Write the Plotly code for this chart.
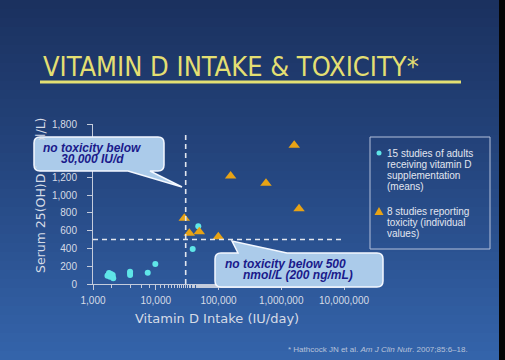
import plotly.graph_objects as go

# ---------------- data ----------------
supp_intake = [1700, 1750, 1800, 1870, 1940, 2030, 2060, 2100, 3900, 3900, 3900, 7450, 9850, 38800, 47600]
supp_serum = [93, 101, 124, 82, 112, 90, 101, 64, 138, 124, 101, 127, 225, 394, 649]
tox_intake = [28500, 34300, 49400, 99300, 156000, 571000, 1610000, 1920000]
tox_serum = [739, 570, 589, 532, 1215, 1133, 1560, 847]

x_tickvals = [1000, 10000, 100000, 1000000, 10000000]
x_ticktext = ["1,000", "10,000", "100,000", "1,000,000", "10,000,000"]
y_tickvals = [0, 200, 400, 600, 800, 1000, 1200, 1400, 1600, 1800]

intake_limit = 30000
serum_limit = 500

title_text = "VITAMIN D INTAKE &amp; TOXICITY*"
x_title = "Vitamin D Intake (IU/day)"
y_title = "Serum 25(OH)D (nmol/L)"
callout1_lines = ["no toxicity below", "30,000 IU/d"]
callout2_lines = ["no toxicity below 500", "nmol/L (200 ng/mL)"]
legend1_lines = ["15 studies of adults", "receiving vitamin D", "supplementation", "(means)"]
legend2_lines = ["8 studies reporting", "toxicity (individual", "values)"]
footnote = "* Hathcock JN et al. <i>Am J Clin Nutr</i>. 2007;85:6\u201318."

# ---------------- layout geometry (pixels) ----------------
W, H = 505, 360
L, R, T, B = 93, 344, 124, 284
PW, PH = R - L, B - T


def PX(px):
    return (px - L) / PW


def PY(py):
    return (B - py) / PH


CYAN = "#5fe6e8"
ORANGE = "#e8a315"
BOX = "#abcbea"
TXT_NAVY = "#1a1a8a"
AXIS = "#c4ccdc"
LABEL = "#d6dbe6"

fig = go.Figure()
fig.add_trace(go.Scatter(x=supp_intake, y=supp_serum, mode="markers",
                         marker=dict(color=CYAN, size=6, line=dict(width=0)),
                         showlegend=False, hoverinfo="skip"))
fig.add_trace(go.Scatter(x=tox_intake, y=tox_serum, mode="markers",
                         marker=dict(color=ORANGE, size=10, symbol="triangle-up", line=dict(width=0)),
                         showlegend=False, hoverinfo="skip"))

shapes = []
# background gradient
n = 40
c0 = (27, 49, 95)
c1 = (38, 72, 130)
c2 = (53, 101, 172)
for i in range(n):
    t = (i + 0.5) / n
    if t < 0.5:
        u = t / 0.5
        c = tuple(int(c0[k] + (c1[k] - c0[k]) * u) for k in range(3))
    else:
        u = (t - 0.5) / 0.5
        c = tuple(int(c1[k] + (c2[k] - c1[k]) * u) for k in range(3))
    y0p = i * H / n
    y1p = (i + 1) * H / n + 0.5
    shapes.append(dict(type="rect", xref="paper", yref="paper", layer="below",
                       x0=PX(0), x1=PX(W), y0=PY(y0p), y1=PY(y1p),
                       fillcolor="rgb(%d,%d,%d)" % c, line=dict(width=0)))
# black stripe at right
shapes.append(dict(type="rect", xref="paper", yref="paper", layer="above",
                   x0=PX(499), x1=PX(W + 1), y0=PY(-1), y1=PY(H + 1),
                   fillcolor="#050505", line=dict(width=0)))
# title underline
shapes.append(dict(type="line", xref="paper", yref="paper", layer="above",
                   x0=PX(40), x1=PX(461), y0=PY(82), y1=PY(82),
                   line=dict(color="#e4df72", width=3)))
# dashed reference lines
shapes.append(dict(type="line", xref="x", yref="y", layer="above",
                   x0=intake_limit, x1=intake_limit, y0=0, y1=1700,
                   line=dict(color="#e2e6ee", width=1.6, dash="5px,4px")))
shapes.append(dict(type="line", xref="x", yref="y", layer="above",
                   x0=1000, x1=9300000, y0=serum_limit, y1=serum_limit,
                   line=dict(color="#e2e6ee", width=1.6, dash="5px,4px")))


def path_from(points):
    s = ""
    for cmd, pts in points:
        s += cmd + " " + " ".join("%.5f,%.5f" % (PX(a), PY(b)) for a, b in pts) + " "
    return s + "Z"


r = 6
# callout 1: box + wedge pointing down-right
bl, br_, bt, bb = 34, 164, 137, 171
p1 = [("M", [(bl + r, bt)]), ("L", [(br_ - r, bt)]), ("Q", [(br_, bt), (br_, bt + r)]),
      ("L", [(br_, bb - r)]), ("Q", [(br_, bb), (br_ - r, bb)]),
      ("L", [(150, bb)]), ("L", [(182, 187)]), ("L", [(128, bb)]),
      ("L", [(bl + r, bb)]), ("Q", [(bl, bb), (bl, bb - r)]),
      ("L", [(bl, bt + r)]), ("Q", [(bl, bt), (bl + r, bt)])]
shapes.append(dict(type="path", xref="paper", yref="paper", layer="above",
                   path=path_from(p1), fillcolor=BOX, line=dict(color="#f4f8ff", width=1.5)))
# callout 2: box + wedge pointing up-left
cl, cr, ct, cb = 215, 383, 253, 287
p2 = [("M", [(cl + r, ct)]), ("L", [(238, ct)]), ("L", [(232, 241)]), ("L", [(287, ct)]),
      ("L", [(cr - r, ct)]), ("Q", [(cr, ct), (cr, ct + r)]),
      ("L", [(cr, cb - r)]), ("Q", [(cr, cb), (cr - r, cb)]),
      ("L", [(cl + r, cb)]), ("Q", [(cl, cb), (cl, cb - r)]),
      ("L", [(cl, ct + r)]), ("Q", [(cl, ct), (cl + r, ct)])]
shapes.append(dict(type="path", xref="paper", yref="paper", layer="above",
                   path=path_from(p2), fillcolor=BOX, line=dict(color="#f4f8ff", width=1.5)))
# legend box and glyphs
shapes.append(dict(type="rect", xref="paper", yref="paper", layer="above",
                   x0=PX(370), x1=PX(490), y0=PY(137), y1=PY(249),
                   line=dict(color="#b4c0da", width=1), fillcolor="rgba(0,0,0,0)"))
shapes.append(dict(type="circle", xref="paper", yref="paper", layer="above",
                   x0=PX(376.5), x1=PX(381.5), y0=PY(150.5), y1=PY(155.5),
                   fillcolor=CYAN, line=dict(width=0)))
shapes.append(dict(type="path", xref="paper", yref="paper", layer="above",
                   path=path_from([("M", [(374.5, 215)]), ("L", [(383.5, 215)]), ("L", [(379, 207)])]),
                   fillcolor=ORANGE, line=dict(width=0)))

ann = []


def text(px, py, s, size, color, family="Liberation Sans, Arial, sans-serif", xanchor="center", **kw):
    ann.append(dict(xref="paper", yref="paper", x=PX(px), y=PY(py), text=s, showarrow=False,
                    xanchor=xanchor, yanchor="middle",
                    font=dict(size=size, color=color, family=family), **kw))


# title
text(41, 66, title_text, 27, "#e4df72", family="DejaVu Sans Condensed, DejaVu Sans, sans-serif", xanchor="left")
# y-axis title (drawn before the callout cover)
text(40, 196, y_title, 12.5, LABEL, family="DejaVu Sans, Verdana, sans-serif", textangle=-90)
# cover over y-title inside callout 1
ann.append(dict(xref="paper", yref="paper", x=PX((bl + br_) / 2), y=PY((bt + bb) / 2), text=" ",
                showarrow=False, xanchor="center", yanchor="middle",
                width=br_ - bl - 5, height=bb - bt - 5, bgcolor=BOX, borderpad=0, borderwidth=0))
# x-axis title
text(217, 318, x_title, 13, LABEL, family="DejaVu Sans, Verdana, sans-serif")
# callout texts
bi = "Liberation Sans, Arial, sans-serif"
text(92, 148, "<b><i>%s</i></b>" % callout1_lines[0], 12, TXT_NAVY, family=bi)
text(92, 159, "<b><i>%s</i></b>" % callout1_lines[1], 12, TXT_NAVY, family=bi)
text(285.5, 263.5, "<b><i>%s</i></b>" % callout2_lines[0], 12, TXT_NAVY, family=bi)
text(298, 274.5, "<b><i>%s</i></b>" % callout2_lines[1], 12, TXT_NAVY, family=bi)
# legend texts
for i, s in enumerate(legend1_lines):
    text(385, 153 + 11 * i, s, 10, "#e2e6f0", xanchor="left")
for i, s in enumerate(legend2_lines):
    text(385, 211 + 11 * i, s, 10, "#e2e6f0", xanchor="left")
# footnote
text(470, 349, footnote, 8, "#b8c3da", xanchor="right")

fig.update_layout(
    width=W, height=H,
    margin=dict(l=L, r=W - R, t=T, b=H - B, pad=0),
    paper_bgcolor="#27487f", plot_bgcolor="rgba(0,0,0,0)",
    showlegend=False,
    shapes=shapes, annotations=ann,
    xaxis=dict(type="log", range=[3, 7], tickvals=x_tickvals, ticktext=x_ticktext,
               showgrid=False, zeroline=False, showline=True, linecolor=AXIS, linewidth=1,
               ticks="outside", ticklen=5, tickcolor=AXIS, ticklabelstandoff=2,
               minor=dict(ticks="outside", ticklen=3, tickcolor=AXIS, showgrid=False),
               tickfont=dict(size=10, color=LABEL, family="Liberation Sans, Arial, sans-serif")),
    yaxis=dict(range=[0, 1800], tickvals=y_tickvals, tickformat=",d",
               showgrid=False, zeroline=False, showline=True, linecolor=AXIS, linewidth=1,
               ticks="outside", ticklen=5, tickcolor=AXIS, ticklabelstandoff=8,
               tickfont=dict(size=10, color=LABEL, family="Liberation Sans, Arial, sans-serif")),
)

fig.write_html("out.html", config={"displayModeBar": False},
               post_script="document.body.style.margin='0';document.body.style.overflow='hidden';")
